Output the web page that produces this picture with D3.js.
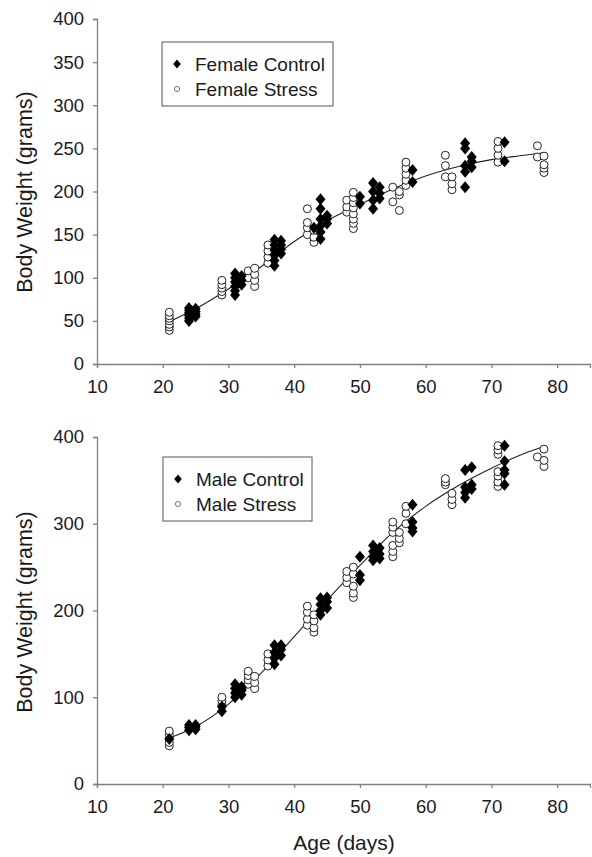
<!DOCTYPE html>
<html><head><meta charset="utf-8">
<script src="https://cdn.jsdelivr.net/npm/d3@7"></script>
<style>
html,body{margin:0;padding:0;background:#fff;}
text{font-family:"Liberation Sans",Arial,sans-serif;fill:#1a1a1a;}
</style></head>
<body>
<script>
// ---------- DATA ----------
const xTicks = [10,20,30,40,50,60,70,80];
const femaleYTicks = [0,50,100,150,200,250,300,350,400];
const maleYTicks = [0,100,200,300,400];

const femaleControl = [
 [24,50],[24,53],[24,56],[24,59],[24,62],[24,65],[25,55],[25,58],[25,61],[25,64],
 [31,80],[31,85],[31,90],[31,95],[31,100],[31,105],[32,92],[32,97],[32,102],
 [37,114],[37,120],[37,126],[37,132],[37,138],[37,144],[38,128],[38,133],[38,138],[38,143],
 [44,145],[44,153],[44,160],[44,168],[44,180],[44,191],[45,163],[45,168],[45,172],[43,158],
 [50,186],[50,194],[52,180],[52,190],[52,200],[52,210],[53,192],[53,198],[53,205],
 [58,211],[58,225],
 [66,205],[66,223],[66,230],[66,250],[66,256],[67,228],[67,235],[67,240],
 [72,235],[72,257]
];
const femaleStress = [
 [21,39],[21,43],[21,46],[21,50],[21,53],[21,56],[21,60],
 [29,80],[29,84],[29,88],[29,92],[29,97],
 [33,100],[33,108],[34,90],[34,97],[34,104],[34,111],
 [36,117],[36,124],[36,131],[36,138],
 [42,150],[42,158],[42,164],[42,180],[43,141],[43,147],[43,155],
 [48,176],[48,182],[48,190],[49,157],[49,163],[49,168],[49,174],[49,181],[49,187],[49,193],[49,199],
 [55,188],[55,205],[56,178],[56,196],[56,200],[57,207],[57,213],[57,220],[57,227],[57,234],
 [63,217],[63,230],[63,242],[64,202],[64,209],[64,217],
 [71,234],[71,242],[71,250],[71,258],
 [77,240],[77,253],[78,222],[78,227],[78,231],[78,241]
];
const femaleFitDays = [21,25,30,35,40,45,50,55,60,65,70,75,78];
const femaleFitWeights = [49,64,87,113,142,166,185,203,218,229,237,242,245];

const maleControl = [
 [21,52],
 [24,62],[24,65],[24,68],[25,63],[25,66],[25,68],
 [29,84],[29,89],
 [31,100],[31,105],[31,110],[31,115],[32,103],[32,108],[32,112],
 [37,138],[37,145],[37,152],[37,160],[38,148],[38,155],[38,160],
 [44,195],[44,200],[44,207],[44,214],[45,203],[45,210],[45,215],
 [50,235],[50,241],[50,262],
 [52,258],[52,262],[52,268],[52,275],[53,260],[53,265],[53,272],
 [58,291],[58,295],[58,302],[58,322],
 [66,330],[66,336],[66,342],[66,362],[67,340],[67,345],[67,365],
 [72,345],[72,358],[72,362],[72,372],[72,390]
];
const maleStress = [
 [21,44],[21,48],[21,53],[21,57],[21,61],
 [29,91],[29,96],[29,100],
 [33,115],[33,120],[33,125],[33,130],[34,110],[34,117],[34,124],
 [36,136],[36,143],[36,150],
 [42,183],[42,190],[42,198],[42,205],[43,175],[43,180],[43,188],[43,195],
 [48,232],[48,238],[48,245],[49,215],[49,220],[49,228],[49,242],[49,250],
 [55,262],[55,268],[55,275],[55,290],[55,296],[55,302],[56,278],[56,283],[56,290],[57,300],[57,312],[57,320],
 [63,345],[63,348],[63,352],[64,322],[64,328],[64,335],
 [71,343],[71,348],[71,355],[71,360],[71,380],[71,385],[71,390],
 [77,377],[78,366],[78,373],[78,386]
];
const maleFitDays = [21,25,30,35,40,45,50,55,60,65,70,75,78];
const maleFitWeights = [53,66,92,128,170,212,252,290,320,344,364,381,389];

// ---------- DRAW ----------
const W = 592, H = 857;
const svg = d3.select("body").append("svg").attr("width", W).attr("height", H);

const diamondPath = (hw, hh) => `M0,${-hh}L${hw},0L0,${hh}L${-hw},0Z`;

function panel(opts) {
  const x = d3.scaleLinear().domain([10, 85]).range([97, 590]);
  const y = d3.scaleLinear().domain([0, 400]).range([opts.y0, opts.y1]);
  const g = svg.append("g");

  const xa = g.append("g").attr("transform", `translate(0,${opts.y0})`)
    .call(d3.axisBottom(x).tickValues(xTicks).tickSize(4).tickPadding(8).tickFormat(d3.format("d")));
  const ya = g.append("g").attr("transform", `translate(97,0)`)
    .call(d3.axisLeft(y).tickValues(opts.yTicks).tickSize(4).tickPadding(9).tickFormat(d3.format("d")));
  [xa, ya].forEach(a => {
    a.select(".domain").attr("stroke", "#808080").attr("stroke-width", 1.3);
    a.selectAll(".tick line").attr("stroke", "#808080").attr("stroke-width", 1.3);
    a.selectAll(".tick text").attr("font-size", 18.5).attr("font-family", "Liberation Sans, Arial, sans-serif").attr("fill", "#1a1a1a");
  });
  xa.selectAll(".tick text").attr("dy", "0.9em");

  g.append("text")
    .attr("transform", `translate(32,${opts.labelY}) rotate(-90)`)
    .attr("text-anchor", "middle").attr("font-size", 21.5)
    .text("Body Weight (grams)");

  const line = d3.line().x(d => x(d[0])).y(d => y(d[1])).curve(d3.curveMonotoneX);
  const fit = opts.fitDays.map((d, i) => [d, opts.fitWeights[i]]);
  g.append("path").datum(fit).attr("d", line).attr("fill", "none")
    .attr("stroke", "#222").attr("stroke-width", 1.1);

  g.append("g").selectAll("circle").data(opts.stress).join("circle")
    .attr("cx", d => x(d[0])).attr("cy", d => y(d[1])).attr("r", 4)
    .attr("fill", "#fff").attr("stroke", "#222").attr("stroke-width", 1);

  g.append("g").selectAll("path").data(opts.control).join("path")
    .attr("transform", d => `translate(${x(d[0])},${y(d[1])})`)
    .attr("d", diamondPath(5, 6)).attr("fill", "#000");

  const lg = g.append("g");
  lg.append("rect").attr("x", opts.lx).attr("y", opts.ly)
    .attr("width", opts.lw).attr("height", 64)
    .attr("fill", "#fff").attr("stroke", "#555").attr("stroke-width", 1);
  lg.append("path").attr("transform", `translate(${opts.lx + 15},${opts.ly + 22})`)
    .attr("d", diamondPath(3.8, 4.5)).attr("fill", "#000");
  lg.append("circle").attr("cx", opts.lx + 15).attr("cy", opts.ly + 47).attr("r", 2.6)
    .attr("fill", "#fff").attr("stroke", "#777").attr("stroke-width", 1);
  lg.append("text").attr("x", opts.lx + 33).attr("y", opts.ly + 22).attr("dy", "0.36em")
    .attr("font-size", 19).text(opts.names[0]);
  lg.append("text").attr("x", opts.lx + 33).attr("y", opts.ly + 47).attr("dy", "0.36em")
    .attr("font-size", 19).text(opts.names[1]);
}

panel({ y0: 364, y1: 19, yTicks: femaleYTicks, labelY: 192,
  control: femaleControl, stress: femaleStress,
  fitDays: femaleFitDays, fitWeights: femaleFitWeights,
  lx: 162, ly: 42, lw: 171, names: ["Female Control", "Female Stress"] });

panel({ y0: 784, y1: 437, yTicks: maleYTicks, labelY: 612,
  control: maleControl, stress: maleStress,
  fitDays: maleFitDays, fitWeights: maleFitWeights,
  lx: 163, ly: 457, lw: 149, names: ["Male Control", "Male Stress"] });

svg.append("text").attr("x", 344).attr("y", 850).attr("text-anchor", "middle")
  .attr("font-size", 21).text("Age (days)");
</script>
</body></html>
